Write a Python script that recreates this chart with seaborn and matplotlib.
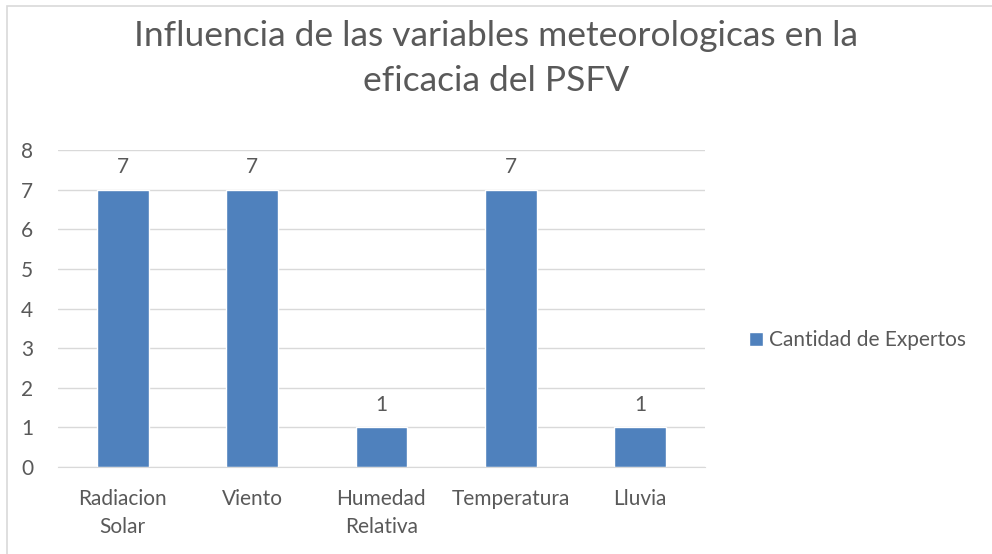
import matplotlib
matplotlib.use("Agg")
import matplotlib.pyplot as plt
import seaborn as sns
import pandas as pd
from matplotlib.patches import Rectangle

categorias = ["Radiacion\nSolar", "Viento", "Humedad\nRelativa", "Temperatura", "Lluvia"]
expertos = [7, 7, 1, 7, 1]
serie = "Cantidad de Expertos"
titulo = "Influencia de las variables meteorologicas en la\neficacia del PSFV"

sns.set_style("white")
plt.rcParams["font.family"] = ["Lato", "DejaVu Sans"]

TXT = "#595959"
BAR = "#4F81BD"

df = pd.DataFrame({"Variable": categorias, "Expertos": expertos})

fig = plt.figure(figsize=(9.92, 5.54), dpi=100)
ax = fig.add_axes([0.0585, 0.157, 0.652, 0.572])

sns.barplot(data=df, x="Variable", y="Expertos", color=BAR, width=0.4,
            ax=ax, label=serie, saturation=1)

ax.set_ylim(0, 8)
ax.set_yticks(range(0, 9))
ax.yaxis.grid(True, color="#D9D9D9", linewidth=1)
ax.set_axisbelow(True)
for s in ["top", "right", "left"]:
    ax.spines[s].set_visible(False)
ax.spines["bottom"].set_color("#D9D9D9")
ax.tick_params(axis="both", length=0, labelsize=15, colors=TXT)
ax.tick_params(axis="y", pad=18)
ax.tick_params(axis="x", pad=16)
for lbl in ax.get_xticklabels():
    lbl.set_linespacing(1.5)
ax.set_xlabel("")
ax.set_ylabel("")

for c in ax.containers:
    ax.bar_label(c, fmt="%d", padding=9, fontsize=15, color=TXT)

ax.legend(loc="center left", bbox_to_anchor=(1.04, 0.4), frameon=False,
          fontsize=15, labelcolor=TXT, handlelength=0.65, handleheight=0.65,
          handletextpad=0.3)

fig.text(0.5, 0.963, titulo, ha="center", va="top", fontsize=25.5, color=TXT,
         linespacing=1.5)

fig.patches.append(Rectangle((7 / 992, -0.1), 1.1, 1 - 6 / 554 + 0.1,
                             transform=fig.transFigure, fill=False,
                             edgecolor="#D9D9D9", linewidth=1.2))

fig.savefig("out.png", dpi=100)
